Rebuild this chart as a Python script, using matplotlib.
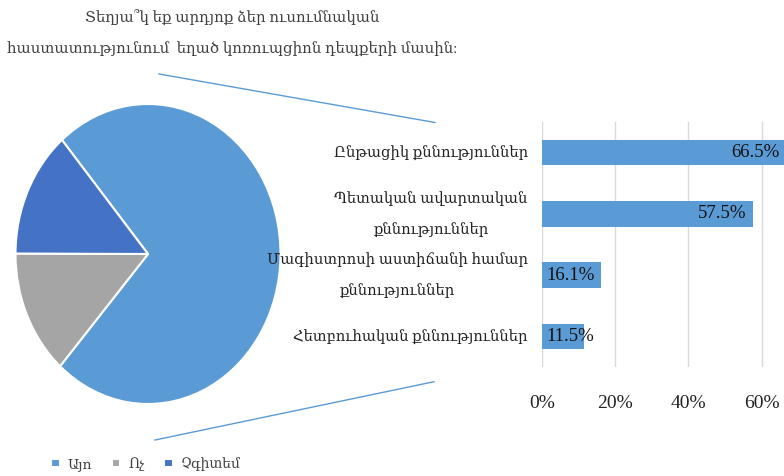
import matplotlib
matplotlib.use("Agg")
import matplotlib.pyplot as plt
from matplotlib.lines import Line2D

plt.rcParams['font.family'] = ['Liberation Serif', 'DejaVu Serif']

W, H = 784, 476

# pie data
pie_labels = ["Այո", "Ոչ", "Չգիտեմ"]
pie_values = [72.8, 13.5, 13.7]
pie_colors = ["#5B9BD5", "#A5A5A5", "#4472C4"]

# bar data (breakdown of "Այո")
bar_labels = ["Ընթացիկ քննություններ",
              "Պետական ավարտական\nքննություններ",
              "Մագիստրոսի աստիճանի համար\nքննություններ",
              "Հետբուհական քննություններ"]
bar_values = [0.665, 0.575, 0.161, 0.115]
xticks = [0, 0.2, 0.4, 0.6]
xtick_labels = ["0%", "20%", "40%", "60%"]

title = "Տեղյա՞կ եք արդյոք ձեր ուսումնական\nհաստատությունում  եղած կոռուպցիոն դեպքերի մասին:"


def fx(px):
    return px / W


def fy(py):
    return 1 - py / H


fig = plt.figure(figsize=(W / 100, H / 100), dpi=100)

# pie
ax_pie = fig.add_axes([fx(15.5), fy(404), 265 / W, 300 / H])
wedges, _ = ax_pie.pie(pie_values, colors=pie_colors, startangle=130.5, counterclock=False,
                       wedgeprops=dict(edgecolor="white", linewidth=1.5))
ax_pie.set_aspect("auto")
ax_pie.set_xlim(-1, 1)
ax_pie.set_ylim(-1, 1)
ax_pie.axis("off")

# bars
ax = fig.add_axes([fx(541.7), fy(367), 1 - fx(541.7), (367 - 122) / H])
ypos = list(range(len(bar_values)))
ax.barh(ypos, bar_values, height=0.42, color="#5B9BD5", zorder=2)
ax.set_ylim(len(bar_values) - 0.5, -0.5)
ax.set_xlim(0, 0.6608)
ax.set_xticks(xticks)
ax.set_xticklabels(xtick_labels, fontsize=14, color="#222222")
ax.set_yticks(ypos)
ax.set_yticklabels(bar_labels, fontsize=10.6, color="#222222", multialignment="center",
                   linespacing=2.4)
for lbl in ax.get_yticklabels():
    lbl.set_va("center")
ax.tick_params(axis="x", length=0, pad=20)
ax.tick_params(axis="y", length=0, pad=10)
ax.grid(axis="x", color="#D9D9D9", linewidth=1, zorder=0)
for s in ax.spines.values():
    s.set_visible(False)

for y, v in zip(ypos, bar_values):
    txt = "%.1f%%" % (v * 100)
    if v < 0.15:
        ax.text(0.014, y, txt, ha="left", va="center", fontsize=13.5, color="#111111", zorder=3)
    else:
        ax.text(v - 0.016, y, txt, ha="right", va="center", fontsize=13.5, color="#111111",
                zorder=3, clip_on=False)

# connector lines
fig.add_artist(Line2D([fx(159), fx(435)], [fy(74), fy(122.5)], color="#5B9BD5", linewidth=1))
fig.add_artist(Line2D([fx(155), fx(434)], [fy(440), fy(381.7)], color="#5B9BD5", linewidth=1))

# title
fig.text(fx(232), fy(32.5), title, ha="center", va="center", fontsize=10.8, color="#404040",
         linespacing=2.3, multialignment="center")

# legend
leg = fig.legend(wedges, pie_labels, loc="center", bbox_to_anchor=(fx(146), fy(464)), ncol=3,
                 frameon=False, fontsize=10, handlelength=0.6, handleheight=0.6,
                 handletextpad=0.6, columnspacing=1.4, labelcolor="#404040")

fig.savefig("out.png", dpi=100)
